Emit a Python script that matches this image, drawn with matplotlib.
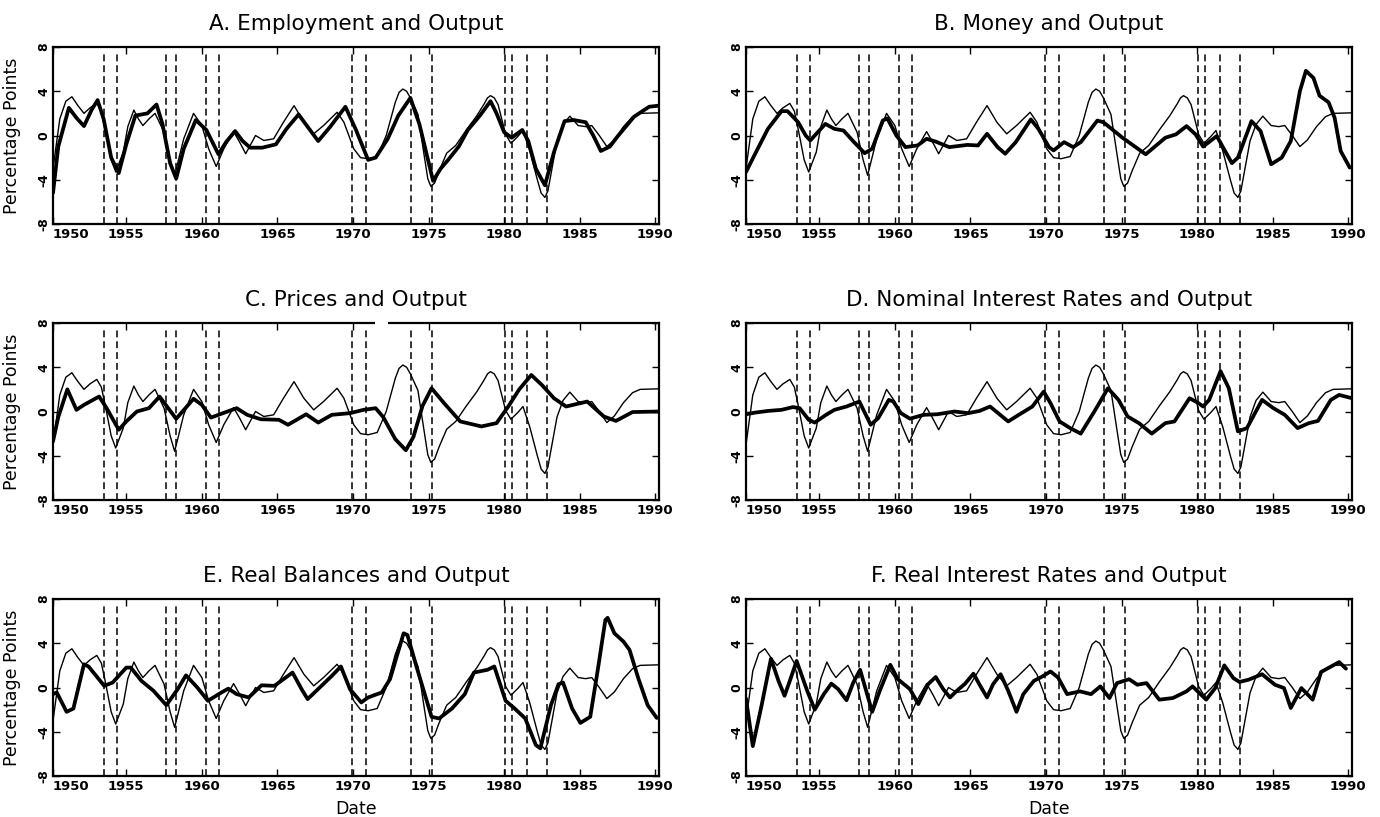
import matplotlib
matplotlib.use("Agg")
import matplotlib.pyplot as plt

# ---------------- data ----------------
titles = ["A. Employment and Output", "B. Money and Output",
          "C. Prices and Output", "D. Nominal Interest Rates and Output",
          "E. Real Balances and Output", "F. Real Interest Rates and Output"]

recession_dates = [1953.54, 1954.37, 1957.62, 1958.29, 1960.29, 1961.12,
                   1969.96, 1970.87, 1973.87, 1975.21, 1980.04, 1980.54,
                   1981.54, 1982.87]

x_ticks = [1950.15, 1955, 1960, 1965, 1970, 1975, 1980, 1985, 1990]
x_tick_labels = ["1950", "1955", "1960", "1965", "1970", "1975", "1980", "1985", "1990"]
y_ticks = [-8, -4, 0, 4, 8]
y_tick_labels = ["-8", "-4", "0", "4", "8"]

# Output (thin line, same in every panel)
output_years = [1950.15, 1950.6, 1951.0, 1951.4, 1951.8, 1952.2, 1952.6, 1953.05, 1953.35, 1953.6,
                1954.0, 1954.3, 1954.8, 1955.1, 1955.5, 1955.8, 1956.1, 1956.5, 1956.9, 1957.5,
                1957.9, 1958.2, 1958.8, 1959.45, 1960.0, 1960.45, 1960.95, 1961.45, 1962.1, 1962.5,
                1962.9, 1963.55, 1964.1, 1964.75, 1965.4, 1966.1, 1966.75, 1967.4, 1968.05, 1968.95,
                1969.4, 1970.05, 1970.5, 1971.0, 1971.6, 1972.2, 1972.8, 1973.05, 1973.3, 1973.55,
                1973.8, 1974.3, 1974.7, 1974.95, 1975.15, 1975.4, 1975.7, 1976.2, 1976.8, 1977.5,
                1978.2, 1978.7, 1978.9, 1979.1, 1979.35, 1979.6, 1980.1, 1980.45, 1980.9, 1981.25,
                1981.7, 1982.2, 1982.45, 1982.7, 1982.9, 1983.1, 1983.5, 1983.9, 1984.35, 1984.9,
                1985.4, 1985.8, 1986.3, 1986.8, 1987.3, 1987.9, 1988.5, 1989.0, 1990.25]
output_vals = [-3.0, 1.5, 3.1, 3.5, 2.7, 2.0, 2.5, 2.9, 2.2, 0.6,
               -2.2, -3.3, -1.5, 0.8, 2.3, 1.5, 0.9, 1.5, 2.0, 0.3,
               -2.2, -3.6, -0.3, 2.0, 0.9, -1.2, -2.8, -1.2, 0.35, -0.6,
               -1.65, 0.0, -0.45, -0.3, 1.2, 2.7, 1.2, 0.15, 0.9, 2.1,
               1.2, -1.2, -2.0, -2.1, -1.9, 0.0, 3.0, 3.9, 4.2, 4.0,
               3.4, 1.9, -1.7, -3.9, -4.6, -4.3, -3.2, -1.6, -0.9, 0.5,
               1.8, 2.9, 3.4, 3.6, 3.4, 2.8, 0.1, -0.7, -0.1, 0.45,
               -1.4, -4.0, -5.2, -5.6, -5.0, -3.5, -0.5, 1.0, 1.75, 0.9,
               0.8, 0.9, 0.0, -1.0, -0.4, 0.8, 1.7, 2.0, 2.05]

# A. Employment
employment_years = [1950.15, 1950.5, 1951.2, 1951.7, 1952.2, 1952.7, 1953.1, 1953.5, 1954.0, 1954.5,
                    1955.0, 1955.6, 1956.4, 1957.0, 1957.4, 1957.9, 1958.3, 1958.8, 1959.6, 1960.3,
                    1961.1, 1961.6, 1962.2, 1962.7, 1963.2, 1964.0, 1964.9, 1965.6, 1966.4, 1967.1,
                    1967.7, 1968.5, 1969.5, 1970.2, 1971.0, 1971.5, 1972.3, 1973.0, 1973.8, 1974.4,
                    1975.3, 1975.8, 1976.3, 1977.0, 1977.6, 1978.4, 1979.1, 1979.5, 1980.0, 1980.5,
                    1981.2, 1981.6, 1982.1, 1982.7, 1983.3, 1984.0, 1984.6, 1985.4, 1985.9, 1986.4,
                    1987.0, 1987.5, 1988.6, 1989.6, 1990.25]
employment_vals = [-5.2, -1.0, 2.5, 1.6, 0.85, 2.3, 3.2, 1.5, -2.0, -3.4,
                   -0.8, 1.8, 2.0, 2.8, 1.0, -2.5, -3.9, -1.2, 1.4, 0.5,
                   -1.7, -0.6, 0.4, -0.5, -1.1, -1.1, -0.8, 0.6, 1.9, 0.6,
                   -0.5, 0.8, 2.6, 0.5, -2.2, -2.0, -0.3, 1.8, 3.4, 1.0,
                   -4.1, -3.0, -2.2, -1.0, 0.5, 1.8, 3.1, 2.0, 0.3, -0.2,
                   0.5, -0.5, -3.0, -4.5, -1.5, 1.3, 1.4, 1.2, 0.0, -1.4,
                   -1.0, -0.1, 1.7, 2.6, 2.7]

# B. Money
money_years = [1950.15, 1950.7, 1951.6, 1952.5, 1952.9, 1953.6, 1954.1, 1954.4, 1955.1, 1955.4,
               1956.0, 1956.6, 1957.3, 1958.0, 1958.5, 1959.2, 1959.5, 1960.1, 1960.7, 1961.5,
               1962.1, 1962.7, 1963.6, 1964.8, 1965.5, 1966.1, 1966.8, 1967.3, 1968.0, 1969.0,
               1969.5, 1970.2, 1970.5, 1971.2, 1971.8, 1972.3, 1973.4, 1973.8, 1975.06, 1976.6,
               1977.9, 1978.6, 1979.3, 1979.9, 1980.4, 1981.3, 1982.3, 1982.7, 1983.6, 1984.2,
               1984.9, 1985.6, 1986.2, 1986.8, 1987.2, 1987.7, 1988.1, 1988.7, 1989.1, 1989.5,
               1990.1]
money_vals = [-3.3, -1.8, 0.6, 2.2, 2.2, 1.2, 0.0, -0.45, 0.6, 1.05,
              0.6, 0.45, -0.6, -1.6, -1.2, 1.35, 1.55, 0.0, -1.05, -0.9,
              -0.3, -0.55, -1.05, -0.85, -0.9, 0.15, -1.05, -1.65, -0.6, 1.45,
              0.6, -1.05, -1.35, -0.6, -1.05, -0.6, 1.35, 1.2, -0.2, -1.7,
              -0.2, 0.1, 0.85, 0.1, -1.0, -0.05, -2.5, -2.0, 1.3, 0.4,
              -2.6, -2.0, -0.5, 4.0, 5.85, 5.2, 3.6, 3.0, 1.6, -1.4,
              -2.9]

# C. Prices
prices_years = [1950.15, 1950.5, 1951.1, 1951.7, 1952.2, 1953.2, 1953.7, 1954.5, 1955.0, 1955.7,
                1956.5, 1957.2, 1958.3, 1959.45, 1960.0, 1960.6, 1961.3, 1962.3, 1963.0, 1963.9,
                1965.1, 1965.7, 1966.9, 1967.7, 1968.6, 1969.8, 1970.7, 1971.5, 1972.0, 1972.8,
                1973.5, 1974.0, 1974.6, 1975.2, 1976.0, 1977.1, 1978.5, 1979.5, 1980.3, 1981.0,
                1981.8, 1982.5, 1983.3, 1984.1, 1985.5, 1986.6, 1987.4, 1988.5, 1990.25]
prices_vals = [-2.7, -0.5, 2.0, 0.15, 0.6, 1.35, 0.3, -1.65, -0.9, 0.0,
               0.3, 1.35, -0.66, 1.15, 0.6, -0.55, -0.2, 0.3, -0.3, -0.7,
               -0.75, -1.2, -0.25, -1.0, -0.3, -0.15, 0.15, 0.3, -0.5, -2.5,
               -3.5, -2.3, 0.5, 2.1, 0.8, -0.9, -1.35, -1.05, 0.5, 2.0,
               3.3, 2.4, 1.2, 0.45, 0.9, -0.45, -0.85, -0.05, 0.0]

# D. Nominal interest rates
nominal_years = [1950.15, 1950.75, 1951.6, 1952.5, 1953.25, 1953.7, 1954.3, 1954.7, 1955.45, 1956.0,
                 1956.8, 1957.65, 1958.4, 1958.9, 1959.6, 1959.9, 1960.4, 1961.0, 1961.9, 1962.8,
                 1963.95, 1964.85, 1965.6, 1966.3, 1967.5, 1968.2, 1969.1, 1969.85, 1970.3, 1970.9,
                 1971.6, 1972.3, 1973.2, 1974.1, 1974.8, 1975.4, 1976.15, 1977.0, 1977.9, 1978.5,
                 1979.5, 1980.1, 1980.4, 1980.8, 1981.55, 1982.1, 1982.7, 1983.3, 1984.3, 1985.05,
                 1985.8, 1986.65, 1987.4, 1988.0, 1988.85, 1989.4, 1990.25]
nominal_vals = [-0.25, -0.1, 0.05, 0.15, 0.4, 0.3, -0.75, -1.0, -0.3, 0.15,
                0.45, 0.9, -1.2, -0.6, 1.05, 0.9, -0.15, -0.65, -0.3, -0.25,
                0.0, -0.15, 0.05, 0.45, -0.9, -0.3, 0.45, 1.8, 0.75, -0.9,
                -1.5, -2.0, 0.0, 2.1, 1.05, -0.45, -1.05, -2.0, -1.05, -0.9,
                1.2, 0.75, 0.45, 1.05, 3.65, 2.1, -1.8, -1.5, 1.05, 0.3,
                -0.3, -1.5, -1.05, -0.85, 1.05, 1.5, 1.2]

# E. Real balances
realbal_years = [1950.15, 1950.4, 1951.05, 1951.5, 1952.2, 1952.5, 1953.54, 1954.1, 1955.0, 1955.3,
                 1956.0, 1956.8, 1957.65, 1958.4, 1958.95, 1959.7, 1960.4, 1961.3, 1961.75, 1962.3,
                 1963.1, 1963.95, 1964.8, 1966.0, 1966.6, 1967.0, 1967.8, 1968.6, 1969.2, 1969.8,
                 1970.55, 1971.0, 1971.9, 1972.45, 1973.35, 1973.6, 1974.2, 1975.2, 1975.7, 1976.55,
                 1977.4, 1978.0, 1978.9, 1979.35, 1980.1, 1980.7, 1981.4, 1982.1, 1982.4, 1983.1,
                 1983.6, 1983.9, 1984.5, 1985.05, 1985.7, 1986.2, 1986.7, 1986.85, 1987.3, 1987.9,
                 1988.3, 1988.9, 1989.5, 1990.1]
realbal_vals = [-0.6, -0.45, -2.2, -1.9, 2.1, 1.9, 0.15, 0.45, 1.8, 1.8,
                0.6, -0.3, -1.6, -0.15, 1.1, 0.0, -1.2, -0.45, -0.1, -0.6,
                -0.9, 0.2, 0.15, 1.35, -0.15, -1.05, 0.0, 1.05, 1.9, -0.15,
                -1.35, -0.9, -0.45, 0.75, 4.9, 4.75, 1.9, -2.65, -2.8, -1.9,
                -0.6, 1.35, 1.6, 1.9, -1.2, -1.9, -2.8, -5.2, -5.5, -1.6,
                0.3, 0.45, -1.9, -3.2, -2.65, 1.6, 6.1, 6.3, 4.9, 4.15,
                3.4, 0.75, -1.6, -2.75]

# F. Real interest rates
realrate_years = [1950.15, 1950.6, 1951.2, 1951.8, 1952.3, 1952.7, 1953.05, 1953.5, 1954.2, 1954.7,
                  1955.3, 1955.8, 1956.25, 1956.8, 1957.25, 1957.7, 1958.1, 1958.5, 1959.0, 1959.7,
                  1960.2, 1961.0, 1961.55, 1962.2, 1962.7, 1963.2, 1963.65, 1964.1, 1964.65, 1965.2,
                  1965.65, 1966.1, 1966.5, 1967.0, 1967.5, 1968.05, 1968.5, 1969.2, 1969.7, 1970.3,
                  1970.8, 1971.4, 1972.25, 1972.98, 1973.6, 1974.2, 1974.7, 1975.5, 1976.05, 1976.65,
                  1977.5, 1978.4, 1979.3, 1979.7, 1980.6, 1981.2, 1981.8, 1982.4, 1982.8, 1983.4,
                  1984.3, 1985.15, 1985.75, 1986.2, 1986.9, 1987.65, 1988.2, 1989.4, 1989.85]
realrate_vals = [-1.0, -5.3, -1.5, 2.6, 0.6, -0.75, 0.6, 2.4, -0.3, -2.0,
                 -0.6, 0.35, -0.15, -1.15, 0.45, 1.6, -0.3, -2.2, -0.3, 2.05,
                 0.75, -0.15, -1.5, 0.3, 0.95, -0.15, -0.9, -0.3, 0.35, 1.25,
                 0.15, -0.9, 0.3, 1.2, -0.3, -2.2, -0.6, 0.6, 0.95, 1.45,
                 0.9, -0.6, -0.35, -0.6, 0.1, -0.95, 0.4, 0.75, 0.25, 0.4,
                 -1.1, -0.95, -0.35, 0.1, -1.1, -0.05, 2.0, 0.85, 0.5, 0.7,
                 1.2, 0.25, -0.05, -1.85, -0.05, -1.1, 1.4, 2.3, 1.7]

thick_series = [(employment_years, employment_vals), (money_years, money_vals),
                (prices_years, prices_vals), (nominal_years, nominal_vals),
                (realbal_years, realbal_vals), (realrate_years, realrate_vals)]

# ---------------- figure ----------------
W, H = 1380, 817
fig = plt.figure(figsize=(W / 100, H / 100), dpi=100)
plt.rcParams['font.family'] = ['DejaVu Sans']

col_left = [53, 746]
panel_w = 606
row_top = [47, 323, 599]
panel_h = 177

for i, (title, (yrs, vals)) in enumerate(zip(titles, thick_series)):
    r, c = divmod(i, 2)
    ax = fig.add_axes([col_left[c] / W, 1 - (row_top[r] + panel_h) / H,
                       panel_w / W, panel_h / H])
    ax.plot(output_years, output_vals, color='black', lw=1.0, zorder=3,
            solid_joinstyle='round')
    ax.plot(yrs, vals, color='black', lw=2.7, zorder=4,
            solid_joinstyle='round', solid_capstyle='round')
    for d in recession_dates:
        ax.plot([d, d], [-8, 7.5], color='black', lw=1.1,
                dashes=(4.5, 2.6), zorder=2)
    ax.set_xlim(1950.15, 1990.25)
    ax.set_ylim(-8, 8)
    ax.set_xticks(x_ticks)
    ax.set_xticklabels(x_tick_labels, fontsize=9.5, fontweight='bold')
    ax.get_xticklabels()[0].set_horizontalalignment('left')
    ax.set_yticks(y_ticks)
    ax.set_yticklabels(y_tick_labels, fontsize=9, fontweight='bold',
                       rotation=90, va='center')
    ax.tick_params(direction='in', length=5, width=1, top=True, right=True,
                   pad=3)
    ax.tick_params(axis='y', pad=2)
    for s in ax.spines.values():
        s.set_linewidth(1.6)
    ax.set_title(title, fontsize=15.5, pad=12)
    if c == 0:
        ax.set_ylabel('Percentage Points', fontsize=12.5)
        ax.yaxis.set_label_coords(-0.053, 0.5)
    if r == 2:
        ax.set_xlabel('Date', fontsize=12.5, labelpad=5)
    if i == 2:
        # scan gap in the top border of panel C
        ax.plot([1971.45, 1972.3], [8, 8], color='white', lw=3,
                clip_on=False, zorder=6, solid_capstyle='butt')

fig.savefig('out.png', dpi=100)
